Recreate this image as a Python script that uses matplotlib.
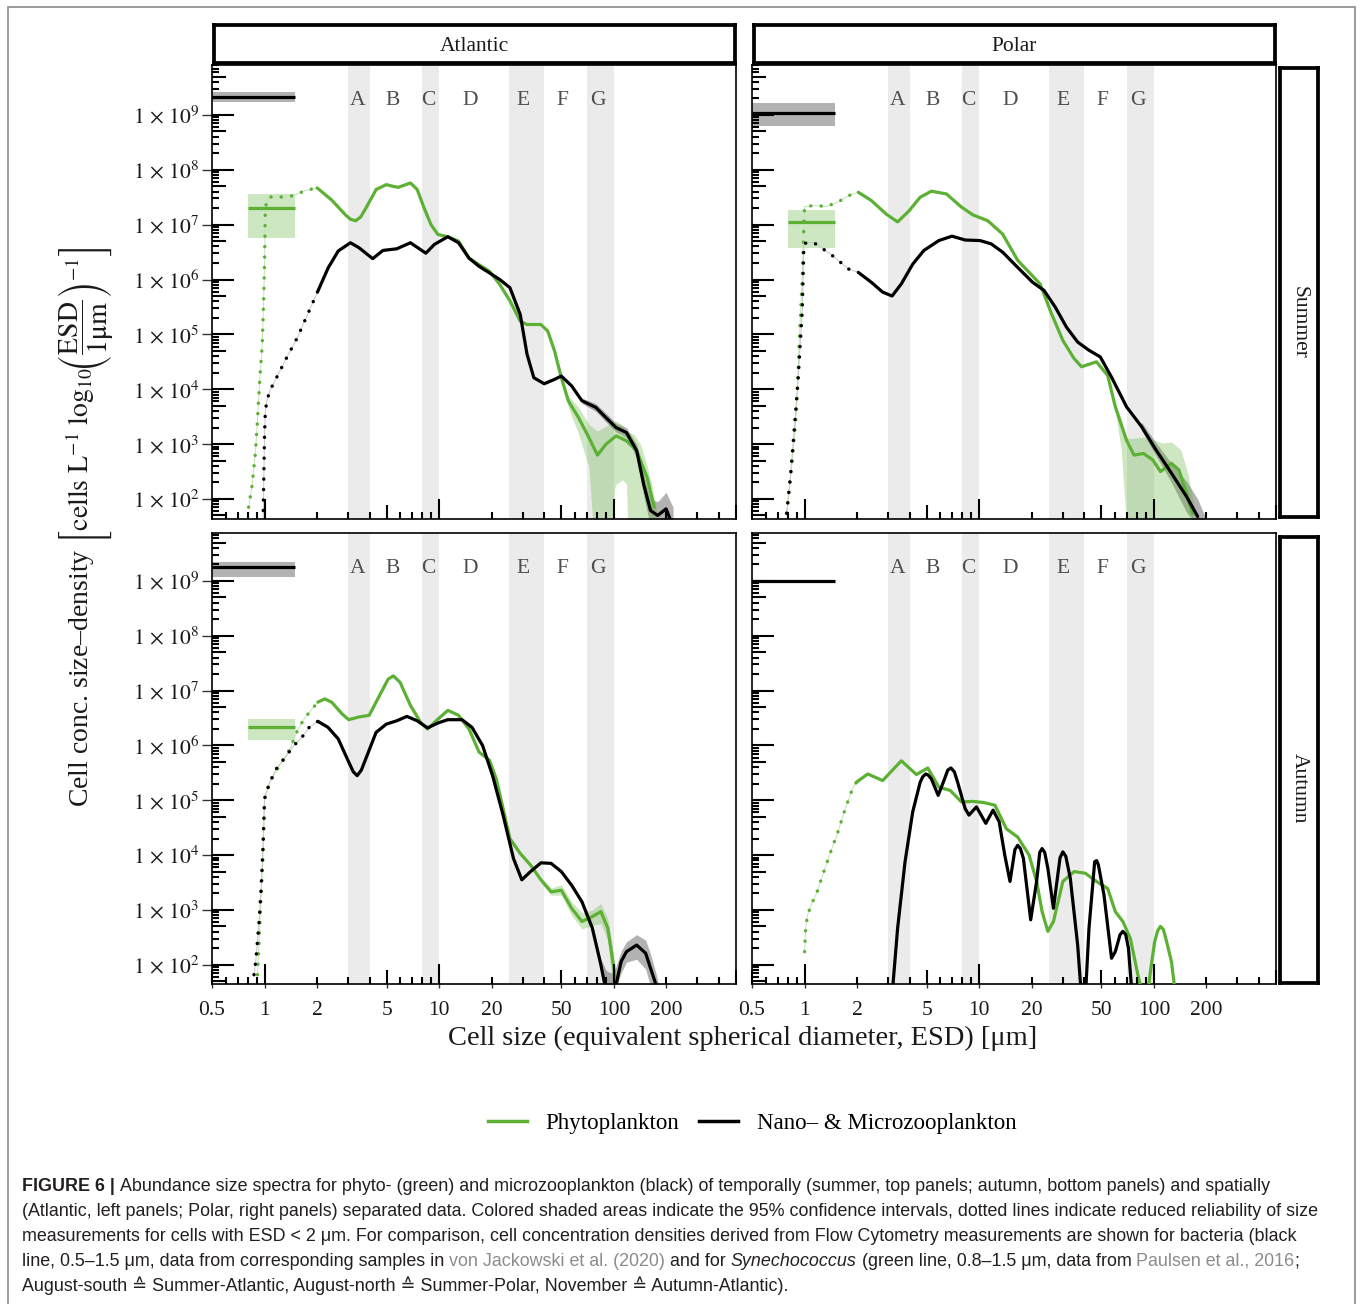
import numpy as np
import matplotlib
matplotlib.use('Agg')
import matplotlib.pyplot as plt
from matplotlib import font_manager
from matplotlib.lines import Line2D
from matplotlib.patches import Rectangle
from matplotlib.ticker import NullLocator

# ------------------------------------------------------------------ data
# size classes (grey columns) and their letters
band_lo = [3, 8, 25, 70]
band_hi = [4, 10, 40, 100]
class_labels = ['A', 'B', 'C', 'D', 'E', 'F', 'G']
class_pos = [3.4, 5.4, 8.7, 15, 30, 51, 81]

x_tick_vals = [0.5, 1, 2, 5, 10, 20, 50, 100, 200]
x_tick_labels = ['0.5', '1', '2', '5', '10', '20', '50', '100', '200']
y_tick_exps = [2, 3, 4, 5, 6, 7, 8, 9]

# ---- Summer / Atlantic (values are log10 of concentration density)
sa_phyto_dot_x = [0.81, 0.845, 0.885, 0.91, 0.94, 0.97, 0.99, 1.0, 1.01, 1.04, 1.12, 1.28, 1.47, 1.70, 2.0]
sa_phyto_dot_log = [1.85, 2.21, 2.82, 3.42, 4.21, 4.82, 5.73, 6.33, 7.30, 7.48, 7.52, 7.50, 7.53, 7.62, 7.67]
sa_phyto_x = [2.0, 2.42, 2.90, 3.10, 3.32, 3.55, 3.80, 4.35, 4.98, 5.40, 5.83, 6.84, 7.48, 8.20, 8.97, 9.82, 11.2, 12.9,
              14.8, 16.9, 19.4, 22.2, 25.4, 29.1, 31.8, 38.2, 41.8, 45.7, 50.0, 54.8, 62.8, 71.9, 80.5, 90.2, 103, 118,
              135, 155, 170]
sa_phyto_log = [7.67, 7.45, 7.18, 7.10, 7.07, 7.14, 7.30, 7.64, 7.73, 7.70, 7.68, 7.76, 7.64, 7.30, 7.00, 6.82, 6.78, 6.70,
                6.39, 6.27, 6.15, 5.91, 5.61, 5.24, 5.18, 5.18, 5.06, 4.70, 4.21, 3.79, 3.48, 3.12, 2.80, 3.00, 3.15, 3.06,
                2.88, 2.39, 1.85]
sa_phyto_ci_x = [50, 54.8, 62.8, 71.9, 76, 80.5, 90.2, 98, 101, 103, 112, 118, 120, 130, 142, 155, 163, 180]
sa_phyto_ci_lo = [4.15, 3.67, 3.18, 2.58, 1.5, 1.5, 1.5, 1.5, 2.20, 2.27, 2.35, 2.27, 1.5, 1.5, 1.5, 1.5, 1.5, 1.5]
sa_phyto_ci_hi = [4.27, 3.88, 3.67, 3.36, 3.30, 3.24, 3.33, 3.40, 3.42, 3.42, 3.35, 3.24, 3.22, 3.18, 3.00, 2.60, 2.33, 1.60]
sa_zoo_dot_x = [0.98, 0.99, 1.0, 1.01, 1.03, 1.07, 1.17, 1.34, 1.54, 1.76, 2.02]
sa_zoo_dot_log = [1.60, 2.40, 3.20, 3.60, 3.78, 3.97, 4.21, 4.58, 4.94, 5.36, 5.79]
sa_zoo_x = [2.02, 2.31, 2.64, 3.10, 3.47, 4.16, 4.76, 5.71, 6.84, 8.38, 9.38, 11.2, 12.9, 14.8, 16.9, 19.4, 22.2, 25.4,
            29.1, 31.8, 34.8, 39.9, 45.7, 50.0, 57.3, 65.6, 78.7, 90.2, 103, 118, 135, 148, 162, 178, 199, 218]
sa_zoo_log = [5.79, 6.21, 6.52, 6.67, 6.58, 6.38, 6.53, 6.56, 6.67, 6.48, 6.64, 6.78, 6.67, 6.39, 6.24, 6.12, 6.00, 5.85,
              5.36, 4.64, 4.21, 4.10, 4.18, 4.24, 4.06, 3.79, 3.67, 3.48, 3.30, 3.21, 2.88, 2.27, 1.79, 1.70, 1.82, 1.50]
sa_zoo_ci_x = [65.6, 78.7, 90.2, 103, 118, 135, 148, 162, 178, 199, 218]
sa_zoo_ci_lo = [3.74, 3.60, 3.40, 3.22, 3.12, 2.75, 2.05, 1.5, 1.5, 1.5, 1.5]
sa_zoo_ci_hi = [3.84, 3.74, 3.56, 3.38, 3.30, 3.00, 2.45, 2.00, 1.95, 2.12, 1.85]
sa_bact_x = [0.5, 1.5]
sa_bact_log, sa_bact_lo, sa_bact_hi = 9.33, 9.24, 9.42
sa_syn_x = [0.8, 1.5]
sa_syn_log, sa_syn_lo, sa_syn_hi = 7.31, 6.75, 7.56

# ---- Summer / Polar
sp_phyto_dot_x = [0.79, 0.85, 0.90, 0.94, 0.97, 0.99, 1.0, 1.15, 1.33, 1.55, 1.79, 2.03]
sp_phyto_dot_log = [1.74, 2.71, 3.62, 5.13, 6.04, 6.95, 7.33, 7.35, 7.33, 7.41, 7.53, 7.59]
sp_phyto_x = [2.03, 2.41, 2.94, 3.41, 3.96, 4.59, 5.32, 6.49, 7.91, 9.17, 11.2, 13.6, 16.6, 19.3, 22.3, 25.9, 30.1, 34.9,
              38.5, 46.9, 54.4, 60.1, 69.7, 76.9, 87.1, 98.6, 109, 126, 139, 154, 166]
sp_phyto_log = [7.59, 7.44, 7.19, 7.05, 7.25, 7.50, 7.61, 7.56, 7.32, 7.18, 7.07, 6.83, 6.35, 6.13, 5.92, 5.38, 4.89, 4.56,
                4.41, 4.50, 4.25, 3.68, 3.07, 2.80, 2.83, 2.71, 2.50, 2.65, 2.53, 2.10, 1.74]
sp_phyto_ci_x = [60.1, 65, 69.7, 73.2, 87, 98.6, 112, 126, 143, 158, 170]
sp_phyto_ci_lo = [3.60, 2.90, 1.5, 1.5, 1.5, 1.5, 1.5, 1.5, 1.5, 1.5, 1.5]
sp_phyto_ci_hi = [3.76, 3.45, 3.12, 3.10, 3.13, 3.08, 3.02, 3.04, 2.89, 2.41, 1.86]
sp_zoo_dot_x = [0.79, 0.83, 0.875, 0.92, 0.97, 0.99, 1.0, 1.12, 1.40, 1.79, 2.03]
sp_zoo_dot_log = [1.74, 2.41, 3.32, 4.22, 5.44, 6.59, 6.66, 6.68, 6.47, 6.19, 6.13]
sp_zoo_x = [2.03, 2.41, 2.80, 3.17, 3.58, 4.16, 4.82, 5.87, 6.98, 8.30, 10.1, 11.7, 13.6, 16.6, 20.2, 23.5, 27.2, 31.6,
            36.6, 42.5, 49.3, 57.2, 69.7, 84.9, 103, 126, 154, 178]
sp_zoo_log = [6.13, 5.95, 5.77, 5.70, 5.92, 6.28, 6.53, 6.71, 6.79, 6.72, 6.71, 6.65, 6.50, 6.22, 5.95, 5.80, 5.50, 5.13,
              4.86, 4.71, 4.59, 4.22, 3.68, 3.32, 2.89, 2.47, 2.04, 1.68]
sp_zoo_ci_x = [84.9, 103, 126, 154, 178, 195]
sp_zoo_ci_lo = [3.25, 2.78, 2.30, 1.75, 1.5, 1.5]
sp_zoo_ci_hi = [3.40, 3.02, 2.65, 2.32, 2.00, 1.70]
sp_bact_x = [0.5, 1.5]
sp_bact_log, sp_bact_lo, sp_bact_hi = 9.04, 8.79, 9.21
sp_syn_x = [0.8, 1.5]
sp_syn_log, sp_syn_lo, sp_syn_hi = 7.05, 6.57, 7.26

# ---- Autumn / Atlantic
aa_phyto_dot_x = [0.91, 0.93, 0.955, 0.98, 1.0, 1.07, 1.22, 1.40, 1.54, 1.68, 1.84, 2.02]
aa_phyto_dot_log = [1.82, 2.42, 3.27, 4.00, 5.03, 5.33, 5.64, 5.94, 6.27, 6.48, 6.64, 6.79]
aa_phyto_x = [2.02, 2.21, 2.42, 2.77, 3.03, 3.47, 3.97, 4.55, 5.10, 5.46, 5.97, 6.84, 7.83, 8.57, 9.82, 11.2, 12.9, 14.8,
              16.9, 19.4, 21.2, 23.2, 25.4, 29.1, 33.3, 38.2, 43.7, 50.0, 57.3, 65.6, 75.2, 84.2, 92.2, 98.6, 103]
aa_phyto_log = [6.79, 6.85, 6.79, 6.58, 6.47, 6.52, 6.55, 6.91, 7.21, 7.27, 7.15, 6.73, 6.42, 6.30, 6.48, 6.64, 6.55, 6.30,
                5.88, 5.73, 5.39, 4.85, 4.30, 4.03, 3.82, 3.55, 3.33, 3.36, 3.03, 2.79, 2.88, 2.97, 2.67, 2.06, 1.64]
aa_phyto_ci_x = [38.2, 43.7, 50.0, 57.3, 65.6, 75.2, 84.2, 92.2, 98.6, 103]
aa_phyto_ci_lo = [3.50, 3.27, 3.27, 2.90, 2.65, 2.72, 2.75, 2.45, 1.60, 1.50]
aa_phyto_ci_hi = [3.60, 3.40, 3.46, 3.15, 2.95, 3.00, 3.12, 2.85, 2.30, 1.80]
aa_zoo_dot_x = [0.87, 0.89, 0.93, 0.955, 0.98, 1.0, 1.07, 1.17, 1.34, 1.47, 1.61, 1.80, 2.02]
aa_zoo_dot_log = [1.82, 2.06, 2.79, 3.39, 4.18, 5.03, 5.33, 5.58, 5.82, 6.00, 6.12, 6.33, 6.44]
aa_zoo_x = [2.02, 2.31, 2.64, 3.03, 3.22, 3.39, 3.58, 3.80, 4.35, 4.98, 5.71, 6.53, 7.48, 8.57, 9.82, 11.2, 13.5, 15.4,
            17.7, 20.2, 23.2, 26.6, 29.7, 33.3, 38.2, 43.7, 50.0, 57.3, 65.6, 75.2, 84.2, 90.2, 96, 101, 110, 118, 135,
            152, 162, 174]
aa_zoo_log = [6.44, 6.33, 6.12, 5.70, 5.52, 5.45, 5.55, 5.76, 6.24, 6.39, 6.45, 6.53, 6.45, 6.32, 6.41, 6.47, 6.47, 6.33,
              6.00, 5.45, 4.73, 3.94, 3.55, 3.70, 3.86, 3.85, 3.70, 3.45, 3.15, 2.67, 2.00, 1.52, 1.30, 1.52, 2.06, 2.24,
              2.36, 2.21, 1.94, 1.64]
aa_zoo_ci_x = [65.6, 75.2, 84.2, 90.2, 96, 101, 110, 118, 135, 152, 162, 174, 182]
aa_zoo_ci_lo = [3.10, 2.60, 1.90, 1.50, 1.50, 1.50, 1.85, 2.05, 2.10, 1.92, 1.60, 1.50, 1.50]
aa_zoo_ci_hi = [3.20, 2.75, 2.10, 1.90, 1.85, 1.90, 2.25, 2.42, 2.55, 2.45, 2.20, 1.85, 1.60]
aa_bact_x = [0.5, 1.5]
aa_bact_log, aa_bact_lo, aa_bact_hi = 9.26, 9.08, 9.35
aa_syn_x = [0.8, 1.5]
aa_syn_log, aa_syn_lo, aa_syn_hi = 6.33, 6.10, 6.48

# ---- Autumn / Polar
ap_phyto_dot_x = [1.0, 1.015, 1.04, 1.09, 1.18, 1.27, 1.40, 1.55, 1.71, 1.88, 1.98]
ap_phyto_dot_log = [2.24, 2.67, 2.91, 3.09, 3.33, 3.64, 4.03, 4.42, 4.85, 5.21, 5.33]
ap_phyto_x = [1.98, 2.30, 2.80, 3.25, 3.58, 4.37, 5.07, 5.87, 6.82, 7.91, 9.17, 10.6, 12.3, 14.3, 16.6, 19.3, 21.3, 22.9,
              24.7, 26.6, 30.1, 34.9, 40.5, 46.9, 54.4, 60.1, 66.4, 73.3, 80.9, 87.1, 91.5, 96.1, 101, 105, 109, 113, 117,
              126, 133]
ap_phyto_log = [5.33, 5.48, 5.36, 5.58, 5.72, 5.47, 5.59, 5.24, 5.18, 4.97, 4.98, 4.96, 4.91, 4.48, 4.33, 4.00, 3.52, 2.97,
                2.61, 2.79, 3.52, 3.70, 3.67, 3.52, 3.39, 2.97, 2.79, 2.48, 1.82, 1.40, 1.40, 1.94, 2.42, 2.62, 2.70, 2.65,
                2.48, 2.06, 1.45]
ap_zoo_x = [3.17, 3.41, 3.76, 4.16, 4.59, 4.75, 4.94, 5.10, 5.32, 5.82, 6.33, 6.60, 6.88, 7.20, 7.52, 8.30, 8.73, 9.64,
            10.9, 12.0, 13.0, 14.0, 15.0, 16.0, 16.6, 17.2, 17.9, 19.7, 21.3, 22.2, 22.9, 23.7, 24.7, 26.6, 29.0, 30.1,
            31.3, 33.2, 36.6, 38.5, 40.5, 42.5, 45.8, 47.0, 48.1, 51.8, 57.2, 60.1, 64.0, 66.4, 69.0, 71.5, 75.0]
ap_zoo_log = [1.45, 2.67, 3.88, 4.79, 5.33, 5.43, 5.48, 5.46, 5.39, 5.09, 5.39, 5.55, 5.59, 5.52, 5.33, 4.85, 4.73, 4.88,
              4.58, 4.82, 4.61, 4.00, 3.52, 4.10, 4.18, 4.12, 3.94, 2.82, 3.52, 4.05, 4.12, 4.05, 3.76, 3.03, 3.95, 4.06,
              3.98, 3.58, 2.36, 1.40, 1.40, 2.67, 3.88, 3.90, 3.82, 3.27, 2.12, 2.24, 2.55, 2.61, 2.55, 2.30, 1.45]
ap_bact_x = [0.5, 1.5]
ap_bact_log = 9.0

# ------------------------------------------------------------------ style
W, H = 1360, 1304
plt.rcParams['font.family'] = ['Liberation Serif', 'DejaVu Serif']
plt.rcParams['mathtext.fontset'] = 'stix'
GREEN = '#5cb135'
TXT = '#1a1a1a'

fig = plt.figure(figsize=(W / 100, H / 100), dpi=100)
fig.patch.set_facecolor('white')


def rect(x0, y0, x1, y1):
    return [x0 / W, 1 - y1 / H, (x1 - x0) / W, (y1 - y0) / H]


def p10(a):
    return 10 ** np.asarray(a, dtype=float)


COLS = [(212, 736), (752, 1276)]
ROWS = [(65, 519), (533, 984)]
YLIMS = [(10 ** 1.635, 10 ** 9.91), (10 ** 1.65, 10 ** 9.875)]


def logticks(ax, wpx, hpx, ylim):
    xs, xl = [], []
    for dec in [0.1, 1, 10, 100]:
        for m in range(1, 10):
            v = m * dec
            if 0.5 - 1e-9 <= v <= 500 + 1e-6:
                xs.append(v)
                xl.append((20 if m == 1 else 14 if m == 5 else 7) / hpx)
    ax.vlines(xs, 0, xl, transform=ax.get_xaxis_transform(), colors='black',
              lw=1.5, zorder=6, clip_on=False)
    ys, yl = [], []
    for e in range(1, 10):
        for m in range(1, 10):
            v = m * 10.0 ** e
            if ylim[0] <= v <= ylim[1]:
                ys.append(v)
                yl.append((22 if m == 1 else 14 if m == 5 else 7) / wpx)
    ax.hlines(ys, 0, yl, transform=ax.get_yaxis_transform(), colors='black',
              lw=1.5, zorder=6, clip_on=False)


def dotted(ax, x, lg, color, thin):
    ax.plot(x, p10(lg), color=thin, lw=0.7, zorder=2)
    ax.plot(x, p10(lg), color=color, lw=2.5, linestyle=(0, (0.01, 3.0)),
            dash_capstyle='round', zorder=3)


def panel(ax, r, c, d):
    ylim = YLIMS[r]
    ax.set_xscale('log')
    ax.set_yscale('log')
    ax.set_xlim(0.5, 500)
    ax.set_ylim(*ylim)
    for lo, hi in zip(band_lo, band_hi):
        ax.axvspan(lo, hi, color='#ebebeb', lw=0, zorder=0)
    ytxt = 10 ** (9.30 if r == 0 else 9.28)
    for lab, xp in zip(class_labels, class_pos):
        ax.text(xp, ytxt, lab, ha='center', va='center_baseline', fontsize=15.5, color='#4d4d4d', zorder=1)
    bx, bl, blo, bhi = d['bact']
    if blo is not None:
        ax.fill_between(bx, [10 ** blo] * 2, [10 ** bhi] * 2, color='black', alpha=0.3, lw=0, zorder=1)
    ax.plot(bx, [10 ** bl] * 2, color='black', lw=2.3, solid_capstyle='butt', zorder=3)
    if d.get('syn') is not None:
        sx, sl, slo, shi = d['syn']
        ax.fill_between(sx, [10 ** slo] * 2, [10 ** shi] * 2, color=GREEN, alpha=0.3, lw=0, zorder=1)
        ax.plot(sx, [10 ** sl] * 2, color=GREEN, lw=2.3, solid_capstyle='butt', zorder=3)
    if d.get('zoo_ci') is not None:
        cx, clo, chi = d['zoo_ci']
        ax.fill_between(cx, p10(clo), p10(chi), color='black', alpha=0.3, lw=0, zorder=1)
    if d.get('phyto_ci') is not None:
        cx, clo, chi = d['phyto_ci']
        ax.fill_between(cx, p10(clo), p10(chi), color=GREEN, alpha=0.3, lw=0, zorder=1)
    if d.get('phyto_dot') is not None:
        dotted(ax, *d['phyto_dot'], GREEN, '#c5e4b8')
    if d.get('zoo_dot') is not None:
        dotted(ax, *d['zoo_dot'], 'black', '#c8c8c8')
    ax.plot(d['phyto'][0], p10(d['phyto'][1]), color=GREEN, lw=2.3, zorder=4,
            solid_joinstyle='round', solid_capstyle='round')
    ax.plot(d['zoo'][0], p10(d['zoo'][1]), color='black', lw=2.3, zorder=5,
            solid_joinstyle='round', solid_capstyle='round')

    for s in ax.spines.values():
        s.set_linewidth(1.2)
        s.set_color('black')
    if c == 0:
        ax.set_yticks([10.0 ** e for e in y_tick_exps])
        ax.set_yticklabels([r'$1\,\times\,10^{%d}$' % e for e in y_tick_exps], fontsize=15.5, color=TXT)
        ax.tick_params(axis='y', direction='out', length=7, width=1, color='#333333', pad=2)
    else:
        ax.set_yticks([])
    if r == 1:
        ax.set_xticks(x_tick_vals)
        ax.set_xticklabels(x_tick_labels, fontsize=15.5, color=TXT)
        ax.tick_params(axis='x', direction='out', length=3, width=1, color='#333333', pad=9)
    else:
        ax.set_xticks([])
    ax.xaxis.set_minor_locator(NullLocator())
    ax.yaxis.set_minor_locator(NullLocator())
    wpx = COLS[c][1] - COLS[c][0]
    hpx = ROWS[r][1] - ROWS[r][0]
    logticks(ax, wpx, hpx, ylim)


panels = {
    (0, 0): dict(phyto=(sa_phyto_x, sa_phyto_log), phyto_dot=(sa_phyto_dot_x, sa_phyto_dot_log),
                 phyto_ci=(sa_phyto_ci_x, sa_phyto_ci_lo, sa_phyto_ci_hi),
                 zoo=(sa_zoo_x, sa_zoo_log), zoo_dot=(sa_zoo_dot_x, sa_zoo_dot_log),
                 zoo_ci=(sa_zoo_ci_x, sa_zoo_ci_lo, sa_zoo_ci_hi),
                 bact=(sa_bact_x, sa_bact_log, sa_bact_lo, sa_bact_hi),
                 syn=(sa_syn_x, sa_syn_log, sa_syn_lo, sa_syn_hi)),
    (0, 1): dict(phyto=(sp_phyto_x, sp_phyto_log), phyto_dot=(sp_phyto_dot_x, sp_phyto_dot_log),
                 phyto_ci=(sp_phyto_ci_x, sp_phyto_ci_lo, sp_phyto_ci_hi),
                 zoo=(sp_zoo_x, sp_zoo_log), zoo_dot=(sp_zoo_dot_x, sp_zoo_dot_log),
                 zoo_ci=(sp_zoo_ci_x, sp_zoo_ci_lo, sp_zoo_ci_hi),
                 bact=(sp_bact_x, sp_bact_log, sp_bact_lo, sp_bact_hi),
                 syn=(sp_syn_x, sp_syn_log, sp_syn_lo, sp_syn_hi)),
    (1, 0): dict(phyto=(aa_phyto_x, aa_phyto_log), phyto_dot=(aa_phyto_dot_x, aa_phyto_dot_log),
                 phyto_ci=(aa_phyto_ci_x, aa_phyto_ci_lo, aa_phyto_ci_hi),
                 zoo=(aa_zoo_x, aa_zoo_log), zoo_dot=(aa_zoo_dot_x, aa_zoo_dot_log),
                 zoo_ci=(aa_zoo_ci_x, aa_zoo_ci_lo, aa_zoo_ci_hi),
                 bact=(aa_bact_x, aa_bact_log, aa_bact_lo, aa_bact_hi),
                 syn=(aa_syn_x, aa_syn_log, aa_syn_lo, aa_syn_hi)),
    (1, 1): dict(phyto=(ap_phyto_x, ap_phyto_log), phyto_dot=(ap_phyto_dot_x, ap_phyto_dot_log),
                 zoo=(ap_zoo_x, ap_zoo_log),
                 bact=(ap_bact_x, ap_bact_log, None, None)),
}

for (r, c), d in panels.items():
    ax = fig.add_axes(rect(COLS[c][0], ROWS[r][0], COLS[c][1], ROWS[r][1]))
    panel(ax, r, c, d)


def strip(x0, y0, x1, y1, label, rot):
    sa = fig.add_axes(rect(x0, y0, x1, y1))
    sa.set_xticks([])
    sa.set_yticks([])
    sa.set_facecolor('white')
    for s in sa.spines.values():
        s.set_linewidth(2.7)
        s.set_color('black')
    sa.text(0.5, 0.5, label, transform=sa.transAxes, ha='center', va='center_baseline',
            rotation=rot, fontsize=15.5, color=TXT)


strip(214, 25, 735, 63, 'Atlantic', 0)
strip(754, 25, 1275, 63, 'Polar', 0)
strip(1280, 68, 1318, 517, 'Summer', -90)
strip(1280, 537, 1318, 983, 'Autumn', -90)

# axis titles
fig.text(743 / W, 1 - 1038 / H, 'Cell size (equivalent spherical diameter, ESD) [μm]',
         ha='center', va='center', fontsize=20.5, color=TXT)
fig.text(86 / W, 1 - 527 / H,
         r'Cell conc. size–density $\left[\mathrm{cells\ L}^{-1}\ \mathrm{log}_{10}\!\left(\dfrac{\mathrm{ESD}}{\mathrm{1μm}}\right)^{-1}\right]$',
         ha='center', va='center', rotation=90, fontsize=20, color=TXT)

# legend
handles = [Line2D([], [], color=GREEN, lw=2.5), Line2D([], [], color='black', lw=2.5)]
fig.legend(handles, ['Phytoplankton', 'Nano– & Microzooplankton'], loc='center',
           bbox_to_anchor=(752 / W, 1 - 1123 / H), ncol=2, frameon=False, fontsize=16.5,
           handlelength=1.7, handletextpad=0.8, columnspacing=0.9)

# outer frame
fig.add_artist(Rectangle((8 / W, -0.01), (1355 - 8) / W, 1.01 - 6.5 / H, transform=fig.transFigure,
                         fill=False, edgecolor='#8a8a8a', lw=1.2))

# ------------------------------------------------------------------ caption
names = {f.name for f in font_manager.fontManager.ttflist}
CAPF = 'Liberation Sans Narrow' if 'Liberation Sans Narrow' in names else 'Liberation Sans'
CAP_FAM = [CAPF, 'DejaVu Sans']
CDARK = '#231f20'
CGREY = '#8c8c8c'

cap_lines = [
    [("FIGURE 6 |", 'bold', 'normal', CDARK, False),
     ("Abundance size spectra for phyto- (green) and microzooplankton (black) of temporally (summer, top panels; autumn, bottom panels) and spatially",
      'normal', 'normal', CDARK, True)],
    [("(Atlantic, left panels; Polar, right panels) separated data. Colored shaded areas indicate the 95% confidence intervals, dotted lines indicate reduced reliability of size",
      'normal', 'normal', CDARK, False)],
    [("measurements for cells with ESD < 2 μm. For comparison, cell concentration densities derived from Flow Cytometry measurements are shown for bacteria (black",
      'normal', 'normal', CDARK, False)],
    [("line, 0.5–1.5 μm, data from corresponding samples in", 'normal', 'normal', CDARK, False),
     ("von Jackowski et al. (2020)", 'normal', 'normal', CGREY, True),
     ("and for", 'normal', 'normal', CDARK, True),
     ("Synechococcus", 'normal', 'italic', CDARK, True),
     ("(green line, 0.8–1.5 μm, data from", 'normal', 'normal', CDARK, True),
     ("Paulsen et al., 2016", 'normal', 'normal', CGREY, True),
     (";", 'normal', 'normal', CDARK, False)],
    [("August-south ≙ Summer-Atlantic, August-north ≙ Summer-Polar, November ≙ Autumn-Atlantic).",
      'normal', 'normal', CDARK, False)],
]
cap_y = [1186, 1211, 1236, 1261, 1286]

renderer = fig.canvas.get_renderer()


def text_w(s, fs, weight='normal', style='normal'):
    t = fig.text(0, 0, s, fontsize=fs, family=CAP_FAM, weight=weight, style=style)
    w = t.get_window_extent(renderer).width
    t.remove()
    return w


ref_w = text_w(cap_lines[1][0][0], 12)
CAP_FS = 12 * (1298 / ref_w)
space_w = text_w('a a', CAP_FS) - text_w('aa', CAP_FS)

for segs, yc in zip(cap_lines, cap_y):
    xpx = 22
    for s, weight, style, col, sp in segs:
        if sp:
            xpx += space_w
        t = fig.text(xpx / W, 1 - (yc + 5) / H, s, fontsize=CAP_FS, family=CAP_FAM, weight=weight,
                     style=style, color=col, ha='left', va='baseline')
        xpx += t.get_window_extent(renderer).width

fig.savefig('out.png', dpi=100, facecolor='white')
